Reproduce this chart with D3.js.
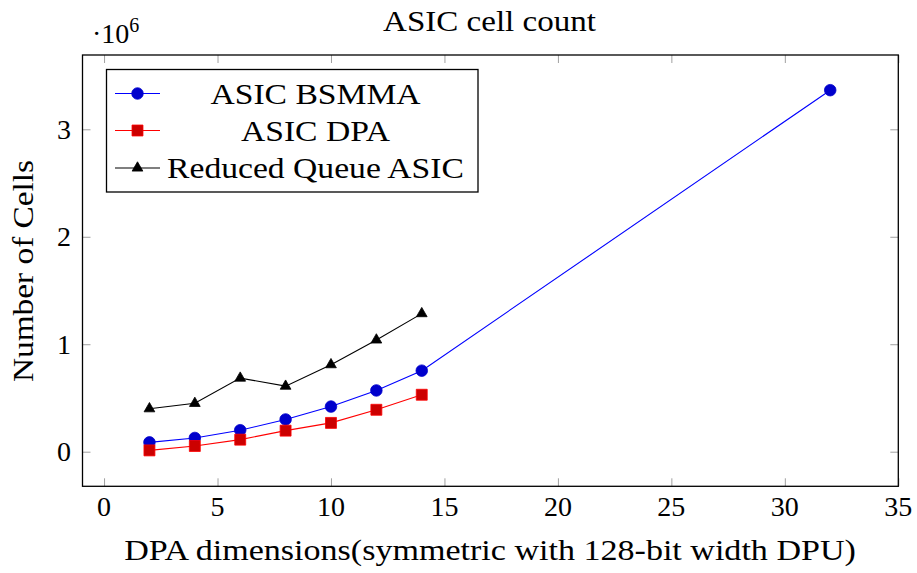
<!DOCTYPE html>
<html>
<head>
<meta charset="utf-8">
<script src="https://cdn.jsdelivr.net/npm/d3@7/dist/d3.min.js"></script>
<style>
  html, body { margin: 0; padding: 0; background: #fff; }
  svg { display: block; }
</style>
</head>
<body>
<svg id="chart" width="917" height="573"></svg>
<script>
// ---- data ----
const xValues = [2, 4, 6, 8, 10, 12, 14];
const bsmmaX = [2, 4, 6, 8, 10, 12, 14, 32];
const bsmmaY = [0.087e6, 0.128e6, 0.20e6, 0.30e6, 0.42e6, 0.57e6, 0.754e6, 3.364e6];
const dpaY = [0.012e6, 0.053e6, 0.112e6, 0.196e6, 0.268e6, 0.39e6, 0.53e6];
const reducedY = [0.40e6, 0.45e6, 0.685e6, 0.61e6, 0.81e6, 1.04e6, 1.285e6];
const xTicks = [0, 5, 10, 15, 20, 25, 30, 35];
const yTicks = [0, 1e6, 2e6, 3e6];
const seriesNames = ["ASIC BSMMA", "ASIC DPA", "Reduced Queue ASIC"];
const titleText = "ASIC cell count";
const xLabel = "DPA dimensions(symmetric with 128-bit width DPU)";
const yLabel = "Number of Cells";

// ---- layout ----
const FONT = "Liberation Serif";
const L = 82.5, R = 898.3, T = 55, B = 486.3;
const SX = 1.16; // horizontal stretch to approximate Computer Modern widths
const svg = d3.select("#chart");

const x = d3.scaleLinear().domain([-0.95, 35]).range([L, R]);
const y = d3.scaleLinear().domain([0, 3e6]).range([451.7, 129.3]);

const series = [
  { name: seriesNames[0], xs: bsmmaX, ys: bsmmaY, line: "#0000ff", fill: "#0000cc", stroke: "#0000cc", mark: "circle" },
  { name: seriesNames[1], xs: xValues, ys: dpaY, line: "#ff0000", fill: "#cc0000", stroke: "#ff0000", mark: "square" },
  { name: seriesNames[2], xs: xValues, ys: reducedY, line: "#000000", fill: "#000000", stroke: "#000000", mark: "triangle" }
];

// ticks (inside, mirrored) built from the scales
const tickLen = 8, tickColor = "#a0a0a0";
const mkAxis = (axis, tr) => svg.append("g").attr("transform", tr).call(axis)
  .call(g => g.select(".domain").remove())
  .call(g => g.selectAll(".tick line").attr("stroke", tickColor))
  .call(g => g.selectAll(".tick text").remove());
mkAxis(d3.axisBottom(x).tickValues(xTicks).tickSize(-tickLen), `translate(0,${B})`);
mkAxis(d3.axisTop(x).tickValues(xTicks).tickSize(-tickLen), `translate(0,${T})`);
mkAxis(d3.axisLeft(y).tickValues(yTicks).tickSize(-tickLen), `translate(${L},0)`);
mkAxis(d3.axisRight(y).tickValues(yTicks).tickSize(-tickLen), `translate(${R},0)`);

// tick labels
svg.append("g").selectAll("text").data(xTicks).join("text")
  .attr("x", d => x(d)).attr("y", 516)
  .attr("text-anchor", "middle").attr("font-family", FONT).attr("font-size", 28)
  .text(d => d);
svg.append("g").selectAll("text").data(yTicks).join("text")
  .attr("x", 71).attr("y", d => y(d) + 9.5)
  .attr("text-anchor", "end").attr("font-family", FONT).attr("font-size", 28)
  .text(d => d / 1e6);

// multiplier
const mult = svg.append("text").attr("x", 92).attr("y", 43).attr("font-family", FONT).attr("font-size", 28);
mult.append("tspan").text("·10");
mult.append("tspan").attr("dy", -11).attr("font-size", 20).text("6");

// lines & markers
const symbolFor = m => m === "circle" ? d3.symbolCircle : (m === "square" ? d3.symbolSquare : d3.symbolTriangle);
const sizeFor = m => m === "circle" ? 105 : (m === "square" ? 120 : 50);
series.forEach(s => {
  const pts = s.xs.map((xv, i) => [xv, s.ys[i]]);
  svg.append("path").datum(pts)
    .attr("fill", "none").attr("stroke", s.line).attr("stroke-width", 1.1)
    .attr("d", d3.line().x(d => x(d[0])).y(d => y(d[1])));
  svg.append("g").selectAll("path").data(pts).join("path")
    .attr("transform", d => `translate(${x(d[0])},${y(d[1])})`)
    .attr("d", d3.symbol().type(symbolFor(s.mark)).size(sizeFor(s.mark)))
    .attr("fill", s.fill).attr("stroke", s.stroke).attr("stroke-width", 0.8);
});

// axis frame
svg.append("rect").attr("x", L).attr("y", T).attr("width", R - L).attr("height", B - T)
  .attr("fill", "none").attr("stroke", "#000").attr("stroke-width", 1.3);

// legend
const lg = svg.append("g");
lg.append("rect").attr("x", 106.5).attr("y", 69.5).attr("width", 371.5).attr("height", 122.5)
  .attr("fill", "#fff").attr("stroke", "#000").attr("stroke-width", 1.3);
const rowY = [93.5, 130.5, 168];
series.forEach((s, i) => {
  lg.append("line").attr("x1", 115).attr("x2", 160).attr("y1", rowY[i]).attr("y2", rowY[i])
    .attr("stroke", s.line).attr("stroke-width", 1.1);
  lg.append("path").attr("transform", `translate(137.5,${rowY[i]})`)
    .attr("d", d3.symbol().type(symbolFor(s.mark)).size(sizeFor(s.mark)))
    .attr("fill", s.fill).attr("stroke", s.stroke).attr("stroke-width", 0.8);
  lg.append("text").attr("transform", `translate(315.5,${rowY[i] + 10}) scale(1.18,1)`)
    .attr("text-anchor", "middle").attr("font-family", FONT).attr("font-size", 28.5).text(s.name);
});

// title and axis labels
svg.append("text").attr("transform", `translate(489.5,30.5) scale(${SX},1)`)
  .attr("text-anchor", "middle").attr("font-family", FONT).attr("font-size", 28.5).text(titleText);
svg.append("text").attr("transform", `translate(490,560) scale(1.195,1)`)
  .attr("text-anchor", "middle").attr("font-family", FONT).attr("font-size", 28.5).text(xLabel);
svg.append("text").attr("transform", `translate(32.5,271) rotate(-90) scale(1.17,1)`)
  .attr("text-anchor", "middle").attr("font-family", FONT).attr("font-size", 28.5).text(yLabel);
</script>
</body>
</html>
